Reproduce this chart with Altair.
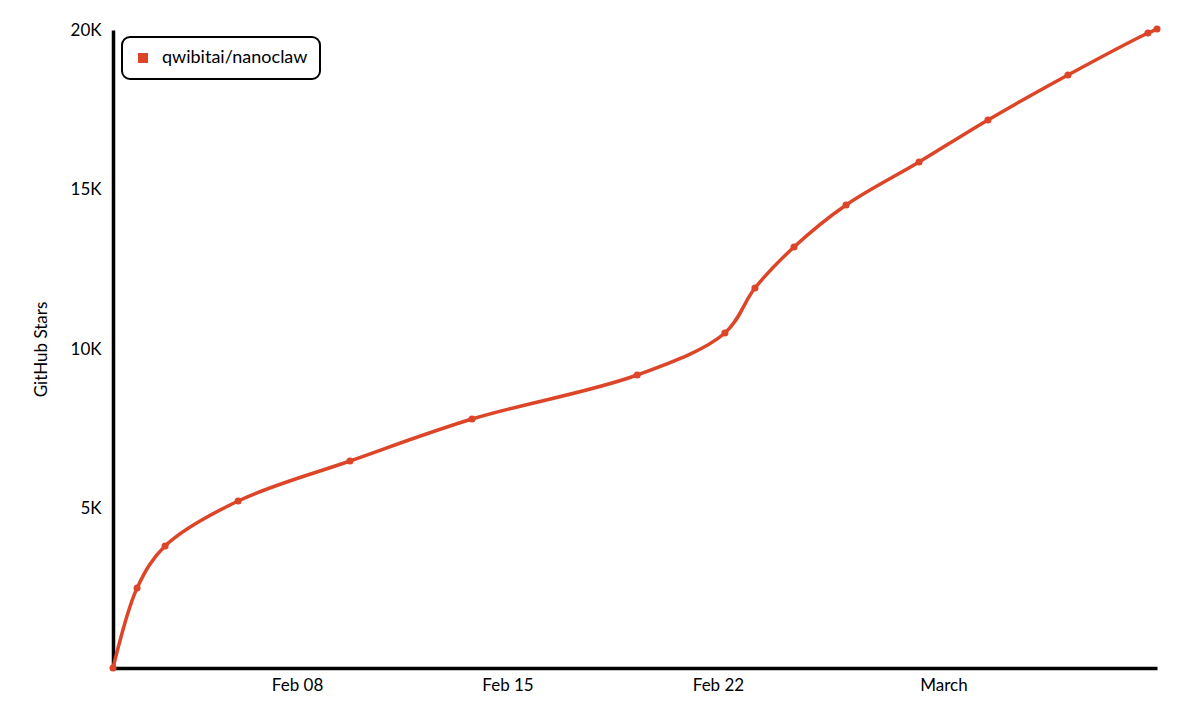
import altair as alt
import pandas as pd

repo = "qwibitai/nanoclaw"
dates = [
    "2026-02-01T21:07", "2026-02-02T16:20", "2026-02-03T14:40", "2026-02-06T01:00",
    "2026-02-09T18:15", "2026-02-13T19:40", "2026-02-19T07:30", "2026-02-22T05:30",
    "2026-02-23T05:30", "2026-02-24T12:40", "2026-02-26T06:15", "2026-02-28T16:30",
    "2026-03-02T23:30", "2026-03-05T15:20", "2026-03-08T07:10", "2026-03-08T14:24",
]
stars = [0, 2508, 3824, 5235, 6489, 7806, 9185, 10502,
         11912, 13197, 14514, 15862, 17179, 18589, 19906, 20031]
x_ticks = ["2026-02-08T00:00", "2026-02-15T00:00", "2026-02-22T00:00", "2026-03-01T12:00"]
y_ticks = [5000, 10000, 15000, 20000]

df = pd.DataFrame({"date": dates, "stars": stars, "repo": [repo] * len(dates)})

FONT = "Lato"
RED = "#dd4528"

x_enc = alt.X(
    "date:T",
    scale=alt.Scale(domain=[dates[0], dates[-1]], nice=False),
    axis=alt.Axis(
        title=None, values=x_ticks, grid=False, ticks=False,
        labelExpr="month(datum.value) == 2 ? 'March' : timeFormat(datum.value, '%b %d')",
        labelFont=FONT, labelFontSize=17, labelColor="black", labelPadding=9,
        domainColor="black", domainWidth=3.5,
    ),
)
y_enc = alt.Y(
    "stars:Q",
    scale=alt.Scale(domain=[0, 20000], nice=False),
    axis=alt.Axis(
        title="GitHub Stars", values=y_ticks, grid=False, ticks=False,
        labelExpr="format(datum.value / 1000, 'd') + 'K'",
        labelFont=FONT, labelFontSize=17, labelColor="black", labelPadding=12,
        titleFont=FONT, titleFontSize=17, titleFontWeight="normal", titleColor="black",
        titlePadding=20, domainColor="black", domainWidth=3.5,
    ),
)
color_enc = alt.Color(
    "repo:N",
    scale=alt.Scale(range=[RED]),
    legend=alt.Legend(
        title=None, orient="none", legendX=9, legendY=7,
        symbolType="square", symbolSize=100, symbolStrokeWidth=0,
        labelFont=FONT, labelFontSize=18, labelColor="black",
        strokeColor="black", fillColor="white", cornerRadius=8,
        padding=12, labelOffset=10,
    ),
)

line = alt.Chart(df).mark_line(
    strokeWidth=3.5, interpolate="catmull-rom", clip=False
).encode(x=x_enc, y=y_enc, color=color_enc)
pts = alt.Chart(df).mark_point(
    filled=True, size=50, opacity=1, clip=False
).encode(x=x_enc, y=y_enc, color=alt.Color("repo:N", scale=alt.Scale(range=[RED]), legend=None))

chart = (line + pts).properties(
    width=1044, height=638,
    autosize=alt.AutoSizeParams(type="none"),
    padding={"left": 105, "top": 22, "right": 20, "bottom": 40},
).configure_view(stroke=None).configure_legend(strokeWidth=2)

chart.save("out.html", embed_options={"renderer": "svg", "actions": False})
